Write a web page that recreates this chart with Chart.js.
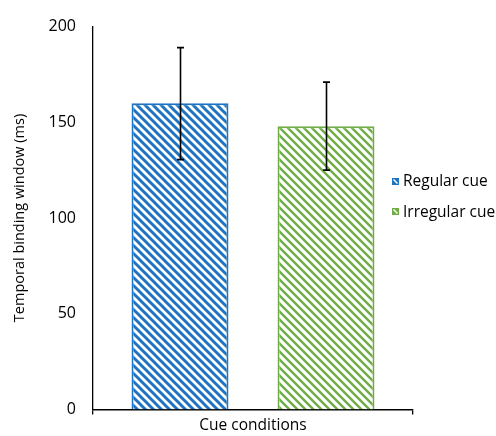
<!DOCTYPE html>
<html>
<head>
<meta charset="utf-8">
<script src="https://cdn.jsdelivr.net/npm/chart.js@4/dist/chart.umd.min.js"></script>
<style>
  html, body { margin: 0; padding: 0; background: #fff; }
  #wrap { width: 496px; height: 436px; }
</style>
</head>
<body>
<div id="wrap"><canvas id="c" width="496" height="436"></canvas></div>
<script>
// ---- data ----
const categories = ['Cue conditions'];
const seriesNames = ['Regular cue', 'Irregular cue'];
const meanValues = [160, 148];
const errorPlus = [29, 23];
const errorMinus = [29.5, 23];
const yTicks = [0, 50, 100, 150, 200];

const seriesColors = ['#1F74C0', '#70AD47'];
const FONT = "'Open Sans', 'Liberation Sans', sans-serif";

function hatch(color, lw) {
  const s = 8;
  const c = document.createElement('canvas');
  c.width = s; c.height = s;
  const g = c.getContext('2d');
  g.fillStyle = '#fff';
  g.fillRect(0, 0, s, s);
  g.strokeStyle = color;
  g.lineWidth = lw;
  g.lineCap = 'square';
  for (let k = -1; k <= 1; k++) {
    g.beginPath();
    g.moveTo(k * s - 2, -2);
    g.lineTo(k * s + s + 2, s + 2);
    g.stroke();
  }
  return g.createPattern(c, 'repeat');
}
const patterns = [hatch(seriesColors[0], 3), hatch(seriesColors[1], 2.4)];

const datasets = seriesNames.map((name, i) => ({
  label: name,
  data: [meanValues[i]],
  backgroundColor: patterns[i],
  borderColor: seriesColors[i],
  borderWidth: 2,
  errPlus: [errorPlus[i]],
  errMinus: [errorMinus[i]],
  categoryPercentage: 0.9125,
  barPercentage: 0.664
}));

const errorBarPlugin = {
  id: 'errorBars',
  afterDatasetsDraw(chart) {
    const ctx = chart.ctx;
    const y = chart.scales.y;
    ctx.save();
    ctx.strokeStyle = '#000';
    ctx.lineWidth = 1.6;
    chart.data.datasets.forEach((ds, di) => {
      const meta = chart.getDatasetMeta(di);
      meta.data.forEach((bar, j) => {
        const v = ds.data[j];
        const top = y.getPixelForValue(v + ds.errPlus[j]);
        const bot = y.getPixelForValue(v - ds.errMinus[j]);
        const x = Math.round(bar.x) + 0.5;
        const cap = 3.5;
        ctx.beginPath();
        ctx.moveTo(x, top); ctx.lineTo(x, bot);
        ctx.moveTo(x - cap, top); ctx.lineTo(x + cap, top);
        ctx.moveTo(x - cap, bot); ctx.lineTo(x + cap, bot);
        ctx.stroke();
      });
    });
    ctx.restore();
  }
};

const legendPlugin = {
  id: 'sideLegend',
  afterDraw(chart) {
    const ctx = chart.ctx;
    const area = chart.chartArea;
    ctx.save();
    ctx.font = "15.5px " + FONT;
    ctx.textBaseline = 'middle';
    ctx.fillStyle = '#000';
    const x0 = area.right - 21;
    const yc = (area.top + area.bottom) / 2;
    const ys = [yc - 37, yc - 6.5];
    chart.data.datasets.forEach((ds, i) => {
      const sz = 7;
      const bx = x0, by = Math.round(ys[i] - sz / 2);
      ctx.fillStyle = ds.borderColor;
      ctx.fillRect(bx, by, sz, sz);
      ctx.strokeStyle = '#fff';
      ctx.lineWidth = 1.5;
      ctx.beginPath();
      ctx.moveTo(bx + 1.5, by + 1.5);
      ctx.lineTo(bx + sz - 1.5, by + sz - 1.5);
      ctx.stroke();
      ctx.fillStyle = '#000';
      ctx.fillText(ds.label, bx + 11, ys[i] + 1);
    });
    ctx.restore();
  }
};

new Chart(document.getElementById('c'), {
  type: 'bar',
  data: { labels: categories, datasets: datasets },
  plugins: [errorBarPlugin, legendPlugin],
  options: {
    responsive: false,
    animation: false,
    devicePixelRatio: 1,
    layout: { padding: { top: 24, right: 83, bottom: 0, left: 0 } },
    plugins: { legend: { display: false }, tooltip: { enabled: false } },
    scales: {
      x: {
        afterFit(s) { s.height = 26; },
        ticks: { display: false },
        grid: { display: true, drawOnChartArea: false, drawTicks: true, tickLength: 5, color: '#000', lineWidth: 1.3 },
        border: { display: true, color: '#000', width: 1.5 },
        title: { display: true, text: 'Cue conditions', color: '#000', font: { family: FONT, size: 15.5 }, padding: { top: 0, bottom: 1 } }
      },
      y: {
        min: 0, max: 200,
        afterFit(s) { s.width = 93; },
        afterBuildTicks(s) { s.ticks = yTicks.map(v => ({ value: v })); },
        ticks: { color: '#000', font: { family: FONT, size: 16 }, padding: 17 },
        grid: { display: false, drawTicks: false },
        border: { display: true, color: '#000', width: 1.3 },
        title: { display: true, text: 'Temporal binding window (ms)', color: '#000', font: { family: FONT, size: 14.5 }, padding: { top: 11, bottom: 0 } }
      }
    }
  }
});
</script>
</body>
</html>
